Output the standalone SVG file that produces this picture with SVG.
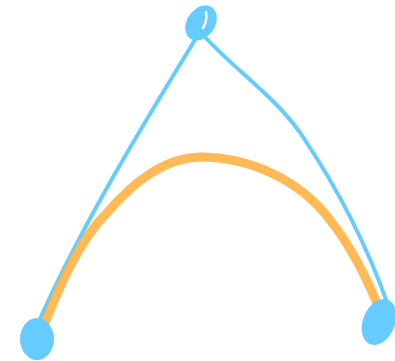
<svg xmlns="http://www.w3.org/2000/svg" width="395" height="361" viewBox="0 0 395 361">
<style>
.line{fill:none;stroke:#66CCFF;stroke-width:4;stroke-linecap:round;stroke-linejoin:round}
.curve{fill:none;stroke:#FFB347;stroke-width:9;stroke-linecap:round;opacity:0.92}
.pt{fill:#66CCFF}
</style>
<rect width="395" height="361" fill="#fff"/>
<g id="connectors">
<path class="line" d="M196,38 C165,90 85,215 36,328"/>
<path class="line" d="M206,38 C235,70 280,100 305,140 C335,185 365,240 388,305"/>
<path class="curve" d="M43,328 C60,285 80,240 105,215 C135,180 165,158 200,157 C250,157 300,180 330,220 C350,245 365,275 377,303"/>
</g>
<g id="p0"><ellipse class="pt" cx="201" cy="23" rx="14" ry="19" transform="rotate(35 201 23)"/><path d="M206,12 C207,17 206,23 203,28" fill="none" stroke="#fff" stroke-width="2.5" stroke-linecap="round"/></g>
<g id="p1"><ellipse class="pt" cx="37" cy="339" rx="17" ry="21"/></g>
<g id="p2"><ellipse class="pt" cx="379" cy="322" rx="16" ry="24" transform="rotate(22 379 322)"/></g>
</svg>
